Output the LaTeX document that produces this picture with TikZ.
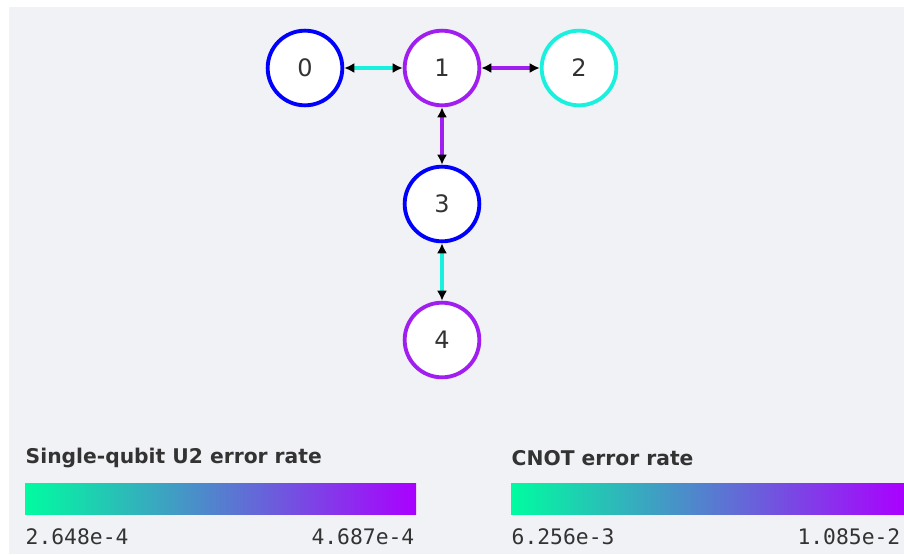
\documentclass[tikz,border=0pt]{standalone}
\usepackage{fontspec}
\setmainfont{DejaVu Sans}
\setmonofont{DejaVu Sans Mono}
\usepackage{xcolor}
\usepackage{tikz}
\usetikzlibrary{arrows.meta}

\definecolor{qblue}{RGB}{0,0,255}
\definecolor{qpurple}{RGB}{160,30,240}
\definecolor{qcyan}{RGB}{25,240,222}
\definecolor{qlow}{RGB}{0,252,160}
\definecolor{qhigh}{RGB}{170,0,255}
\definecolor{qtext}{RGB}{51,51,51}
\definecolor{qback}{RGB}{241,242,246}

\begin{document}
\begin{tikzpicture}[x=0.75pt, y=-0.75pt,
  qubit/.style={circle, draw, line width=2.9pt, fill=white, minimum size=56pt, inner sep=0pt, text=qtext, font=\fontsize{18}{21}\selectfont},
  link/.style={line width=2.6pt, {Latex[black,length=7.5pt,width=7.5pt]}-{Latex[black,length=7.5pt,width=7.5pt]}},
  title/.style={anchor=west, text=qtext, font=\bfseries\fontsize{15.2}{18}\selectfont},
  tick/.style={text=qtext, font=\ttfamily\fontsize{16}{19}\selectfont}]
\useasboundingbox (0,0) rectangle (904,554);
\fill[qback] (9,7) rectangle (904,554);

% coupling map
\node[qubit, draw=qblue] (Q0) at (305,68) {0};
\node[qubit, draw=qpurple] (Q1) at (442,68) {1};
\node[qubit, draw=qcyan] (Q2) at (579,68) {2};
\node[qubit, draw=qblue] (Q3) at (442,204) {3};
\node[qubit, draw=qpurple] (Q4) at (442,340) {4};
\draw[link, qcyan] (Q0) -- (Q1);
\draw[link, qpurple] (Q1) -- (Q2);
\draw[link, qpurple] (Q1) -- (Q3);
\draw[link, qcyan] (Q3) -- (Q4);

% legends
\node[title] (U2) at (21,458) {Single-qubit U2 error rate};
\shade[left color=qlow, right color=qhigh] (25,483) rectangle (416,514);
\node[tick, anchor=west] (U2lo) at (21,537) {2.648e-4};
\node[tick, anchor=east] (U2hi) at (419,537) {4.687e-4};

\node[title] (CX) at (507,458) {CNOT error rate};
\shade[left color=qlow, right color=qhigh] (511,483) rectangle (904,514);
\node[tick, anchor=west] (CXlo) at (507,537) {6.256e-3};
\node[tick, anchor=east] (CXhi) at (905,537) {1.085e-2};
\end{tikzpicture}
\end{document}
